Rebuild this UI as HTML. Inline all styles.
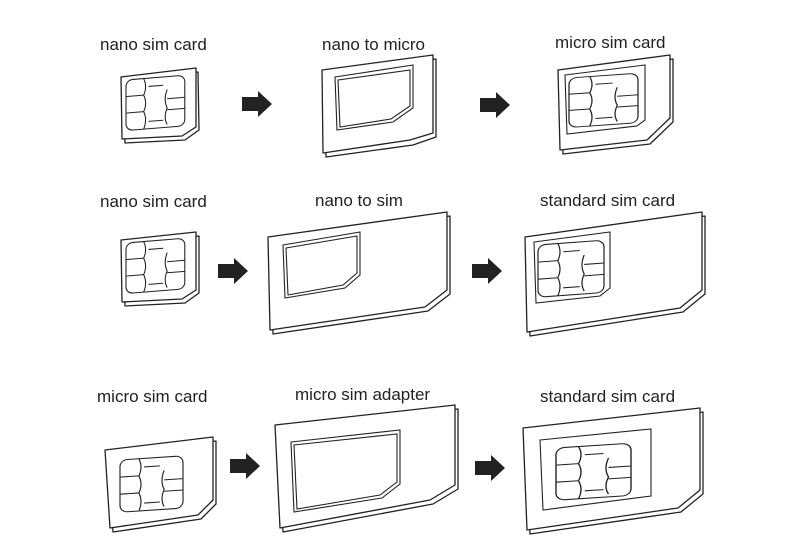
<!DOCTYPE html>
<html><head><meta charset="utf-8"><style>
html,body{margin:0;padding:0;background:#fff;width:800px;height:558px;overflow:hidden}
text{font-family:"Liberation Sans",Arial,sans-serif;font-size:17px;fill:#222}
.c{fill:#fff;stroke:#222;stroke-width:1.3;stroke-linejoin:round}
.l{fill:none;stroke:#222;stroke-width:1.1}
.a{fill:#222}
</style></head><body>
<svg width="800" height="558" viewBox="0 0 800 558" xmlns="http://www.w3.org/2000/svg">
<defs>
<g id="chip">
<rect x="0" y="0" width="60" height="55" rx="7" class="l"/>
<path d="M18 0 Q22 9 18 18 Q22 27 18 36 Q22 45 18 55" class="l"/>
<path d="M0 18 H18 M0 36 H18" class="l"/>
<path d="M42 14 Q38 25 42 34 Q38 44 42 52" class="l"/>
<path d="M42 24 H60 M42 36 H60" class="l"/>
<path d="M23 9 H38 M23 47 H38" class="l"/>
</g>
<g id="arr"><path d="M0 6 H16 V0 L30 13 L16 26 V20 H0 Z" class="a"/></g>
</defs>

<text x="100" y="50">nano sim card</text>
<text x="322" y="50">nano to micro</text>
<text x="555" y="48">micro sim card</text>
<text x="100" y="207">nano sim card</text>
<text x="315" y="206">nano to sim</text>
<text x="540" y="206">standard sim card</text>
<text x="97" y="402">micro sim card</text>
<text x="295" y="400">micro sim adapter</text>
<text x="540" y="402">standard sim card</text>

<!-- Row 1 nano -->
<polygon class="c" points="123,81 198,72 199,130 185,140 125,143"/>
<polygon class="c" points="121,77 196,68 196,127 182,136 122,139"/>
<use href="#chip" transform="translate(126,80) matrix(0.98,-0.08,0,0.92,0,0)"/>
<use href="#arr" transform="translate(242,91)"/>

<!-- nano to micro -->
<polygon class="c" points="325,74 436,59 436,137 413,145 326,157"/>
<polygon class="c" points="322,70 433,55 433,133 410,140 323,153"/>
<polygon class="l" points="335,77 413,65 413,108 393,122 337,130"/>
<polygon class="l" points="338,80 410,70 410,106 391,119 340,127"/>
<use href="#arr" transform="translate(480,92)"/>

<!-- micro -->
<polygon class="c" points="561,74 673,59 673,122 650,144 563,154"/>
<polygon class="c" points="558,70 670,55 670,118 647,140 560,150"/>
<polygon class="l" points="565,75 645,65 645,120 637,126 567,134"/>
<use href="#chip" transform="translate(569,78) matrix(1.15,-0.08,0,0.9,0,0)"/>

<!-- Row 2 nano -->
<polygon class="c" points="123,244 199,236 199,293 185,303 125,306"/>
<polygon class="c" points="121,240 196,232 196,290 182,299 122,302"/>
<use href="#chip" transform="translate(126,243) matrix(0.98,-0.08,0,0.92,0,0)"/>
<use href="#arr" transform="translate(218,258)"/>

<!-- nano to sim -->
<polygon class="c" points="271,241 450,216 450,294 428,311 273,334"/>
<polygon class="c" points="268,237 447,212 447,290 425,307 270,330"/>
<polygon class="l" points="283,245 360,232 360,275 345,288 285,298"/>
<polygon class="l" points="286,248 357,236 357,273 343,285 288,295"/>
<use href="#arr" transform="translate(472,258)"/>

<!-- standard -->
<polygon class="c" points="528,241 705,216 705,294 683,312 530,336"/>
<polygon class="c" points="525,237 702,212 702,290 680,308 527,332"/>
<polygon class="l" points="534,242 610,232 610,288 600,296 536,303"/>
<use href="#chip" transform="translate(538,245) matrix(1.1,-0.08,0,0.95,0,0)"/>

<!-- Row 3 micro -->
<polygon class="c" points="108,454 216,441 216,504 201,519 113,532"/>
<polygon class="c" points="105,450 213,437 213,500 198,515 110,528"/>
<use href="#chip" transform="translate(120,460) matrix(1.05,-0.07,0,0.95,0,0)"/>
<use href="#arr" transform="translate(230,453)"/>

<!-- micro adapter -->
<polygon class="c" points="278,429 458,409 458,489 433,504 283,532"/>
<polygon class="c" points="275,425 455,405 455,485 430,500 280,528"/>
<polygon class="l" points="291,442 400,430 400,484 382,498 294,512"/>
<polygon class="l" points="294,445 397,434 397,482 380,495 297,509"/>
<use href="#arr" transform="translate(475,455)"/>

<!-- standard 3 -->
<polygon class="c" points="526,432 703,412 703,494 681,512 530,534"/>
<polygon class="c" points="523,428 700,408 700,490 678,508 527,530"/>
<polygon class="l" points="540,440 651,429 651,496 543,510"/>
<use href="#chip" transform="translate(556,448) matrix(1.25,-0.08,0,0.95,0,0)"/>
</svg>
</body></html>
